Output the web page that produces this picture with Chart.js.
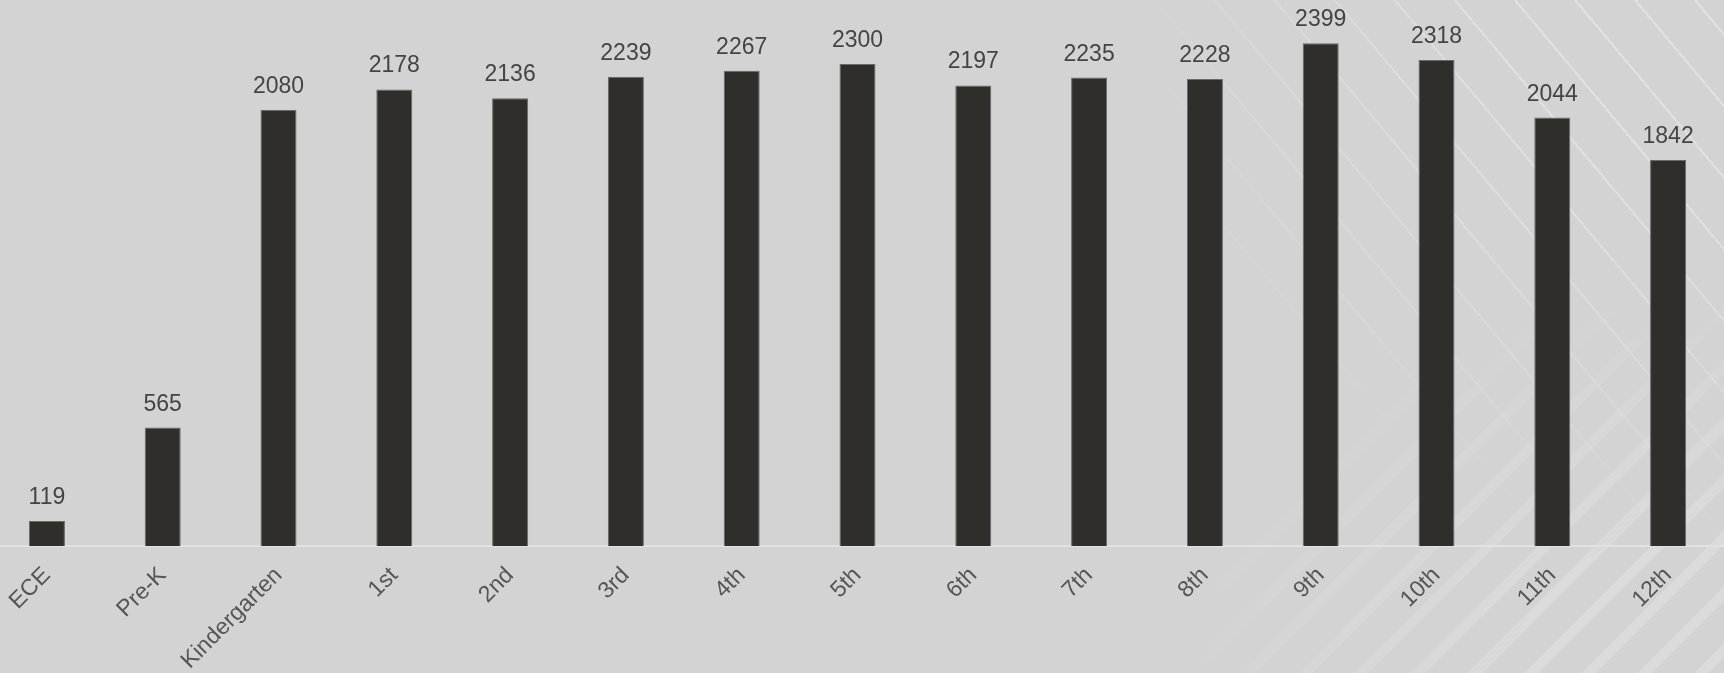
<!DOCTYPE html>
<html>
<head>
<meta charset="utf-8">
<script src="https://cdn.jsdelivr.net/npm/chart.js@4/dist/chart.umd.min.js"></script>
<style>
  html, body { margin: 0; padding: 0; }
  body { width: 1724px; height: 673px; overflow: hidden; background: #d2d3d2; position: relative; }
  .tex1, .tex2 { position: absolute; pointer-events: none; }
  .tex1 {
    left: 1000px; top: 0; width: 724px; height: 673px;
    background: repeating-linear-gradient(50deg, rgba(255,255,255,0) 0 44px, rgba(255,255,255,0.32) 44px 46px);
    -webkit-mask-image: radial-gradient(ellipse 620px 560px at 100% 0%, #000 35%, transparent 100%);
    mask-image: radial-gradient(ellipse 620px 560px at 100% 0%, #000 35%, transparent 100%);
  }
  .tex2 {
    left: 1000px; top: 250px; width: 724px; height: 423px;
    background: repeating-linear-gradient(135deg, rgba(255,255,255,0) 0 30px, rgba(255,255,255,0.2) 30px 40px);
    -webkit-mask-image: radial-gradient(ellipse 560px 400px at 100% 100%, #000 30%, transparent 100%);
    mask-image: radial-gradient(ellipse 560px 400px at 100% 100%, #000 30%, transparent 100%);
  }
  #wrap { position: absolute; left: -11px; top: 0; width: 1737px; height: 673px; }
</style>
</head>
<body>
<div class="tex1"></div>
<div class="tex2"></div>
<div id="wrap"><canvas id="myChart"></canvas></div>
<script>
'use strict';

var grades = ['ECE', 'Pre-K', 'Kindergarten', '1st', '2nd', '3rd', '4th', '5th', '6th', '7th', '8th', '9th', '10th', '11th', '12th'];
var students = [119, 565, 2080, 2178, 2136, 2239, 2267, 2300, 2197, 2235, 2228, 2399, 2318, 2044, 1842];

// numbers drawn above each bar
var valueLabels = {
  id: 'valueLabels',
  afterDatasetsDraw: function (chart) {
    var ctx = chart.ctx;
    var meta = chart.getDatasetMeta(0);
    ctx.save();
    ctx.font = '23px "Liberation Sans", Arial, sans-serif';
    ctx.fillStyle = '#444444';
    ctx.textAlign = 'center';
    ctx.textBaseline = 'alphabetic';
    meta.data.forEach(function (bar, i) {
      ctx.fillText(String(students[i]), bar.x, bar.y - 17);
    });
    ctx.restore();
  }
};

var ctx = document.getElementById('myChart');
var myChart = new Chart(ctx, {
  type: 'bar',
  data: {
    labels: grades,
    datasets: [{
      data: students,
      backgroundColor: '#2f2e2a',
      borderColor: '#6a6a68',
      borderWidth: 1,
      barPercentage: 0.311,
      categoryPercentage: 1
    }]
  },
  plugins: [valueLabels],
  options: {
    responsive: true,
    maintainAspectRatio: false,
    animation: false,
    layout: { padding: { top: 1, left: 0, right: 0, bottom: 0 } },
    plugins: { legend: { display: false }, tooltip: { enabled: false } },
    scales: {
      x: {
        grid: { display: false, drawTicks: false },
        border: { display: true, color: '#e2e2e2', width: 2 },
        ticks: {
          color: '#555555',
          font: { family: '"Liberation Sans", Arial, sans-serif', size: 23 },
          minRotation: 45,
          maxRotation: 45,
          autoSkip: false,
          padding: 16
        },
        afterFit: function (scale) { scale.height = 127; }
      },
      y: {
        display: false,
        min: 0,
        max: 2600
      }
    }
  }
});
</script>
</body>
</html>
